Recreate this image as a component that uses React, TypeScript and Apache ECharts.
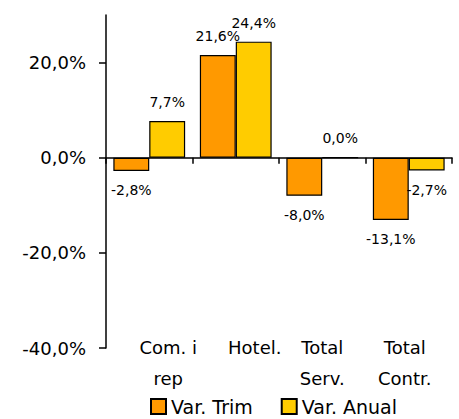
import React, { useEffect, useRef } from "react";
import * as echarts from "echarts";

const categories = ["Com. i\nrep", "Hotel.", "Total\nServ.", "Total\nContr."];
const varTrim = [-2.8, 21.6, -8.0, -13.1];
const varAnual = [7.7, 24.4, 0.0, -2.7];
const yTicks = [-40, -20, 0, 20];
const seriesNames = ["Var. Trim", "Var. Anual"];
const labelShift = [19, 19, 0, -4];

const FONT = "DejaVu Sans";
const fmt = (v: number) => v.toFixed(1).replace(".", ",") + "%";

function barData(values: number[]) {
  return values.map((v) => ({
    value: v,
    label: { position: v < 0 ? "bottom" : "top" },
  }));
}

export default function App() {
  const ref = useRef<HTMLDivElement>(null);
  useEffect(() => {
    if (!ref.current) return;
    const chart = echarts.init(ref.current, undefined, { renderer: "svg" });
    const catLabelData = categories.map((c, i) => ({
      value: c,
      textStyle: {
        padding: labelShift[i] >= 0 ? [0, 0, 0, labelShift[i] * 2] : [0, -labelShift[i] * 2, 0, 0],
      },
    }));
    chart.setOption({
      animation: false,
      textStyle: { fontFamily: FONT },
      grid: { left: 106, right: 7, top: 15, bottom: 71, containLabel: false, outerBoundsMode: "none" },
      xAxis: [
        {
          type: "category",
          data: categories,
          axisLine: { onZero: true, lineStyle: { color: "#000", width: 1.5 } },
          axisTick: { show: true, length: 6, lineStyle: { color: "#000", width: 1.5 } },
          axisLabel: { show: false },
          splitLine: { show: false },
        },
        {
          type: "category",
          position: "bottom",
          data: catLabelData,
          axisLine: { show: false, onZero: false },
          axisTick: { show: false },
          axisLabel: {
            show: true,
            interval: 0,
            margin: -16,
            fontSize: 18,
            lineHeight: 31,
            color: "#000",
            fontFamily: FONT,
          },
          splitLine: { show: false },
        },
      ],
      yAxis: {
        type: "value",
        min: -40,
        max: 30,
        interval: 20,
        axisLine: { show: true, lineStyle: { color: "#000", width: 1.5 } },
        axisTick: { show: true, length: 7, customValues: yTicks, lineStyle: { color: "#000", width: 1.5 } },
        axisLabel: {
          customValues: yTicks,
          formatter: (v: number) => fmt(v),
          fontSize: 18,
          color: "#000",
          margin: 20,
          fontFamily: FONT,
        },
        splitLine: { show: false },
      },
      legend: {
        data: seriesNames,
        left: 150,
        top: 397,
        padding: 0,
        itemWidth: 15,
        itemHeight: 15,
        itemGap: 28,
        icon: "rect",
        textStyle: { fontSize: 19, color: "#000", fontFamily: FONT },
      },
      series: [
        {
          name: seriesNames[0],
          type: "bar",
          xAxisIndex: 0,
          data: barData(varTrim),
          barGap: "0%",
          barCategoryGap: "17%",
          itemStyle: { color: "#FF9900", borderColor: "#000", borderWidth: 1.2 },
          label: { show: true, formatter: (p: any) => fmt(p.value), fontSize: 14, color: "#000", distance: 12, fontFamily: FONT },
        },
        {
          name: seriesNames[1],
          type: "bar",
          xAxisIndex: 0,
          data: barData(varAnual),
          barGap: "0%",
          barCategoryGap: "17%",
          itemStyle: { color: "#FFCC00", borderColor: "#000", borderWidth: 1.2 },
          label: { show: true, formatter: (p: any) => fmt(p.value), fontSize: 14, color: "#000", distance: 12, fontFamily: FONT },
        },
      ],
    });
    return () => chart.dispose();
  }, []);
  return (
    <div
      ref={ref}
      style={{ position: "fixed", left: 0, top: 0, width: 459, height: 419, background: "#fff" }}
    />
  );
}
